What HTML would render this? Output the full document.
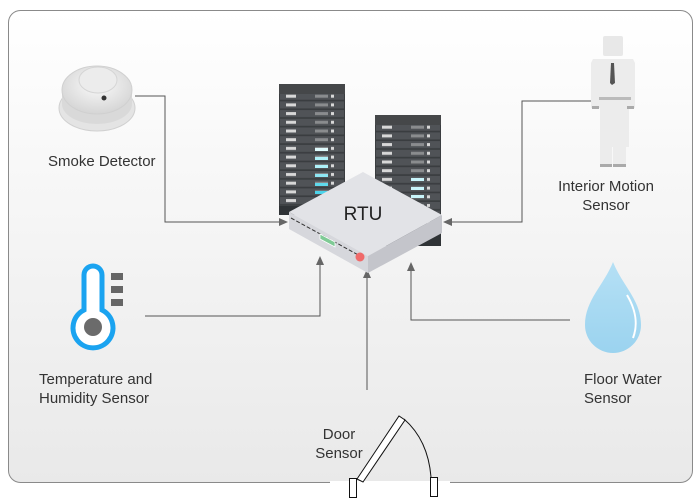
<!DOCTYPE html>
<html><head><meta charset="utf-8"><style>
html,body{margin:0;padding:0;background:#fff;}
svg{display:block;font-family:"Liberation Sans",sans-serif;}
</style></head><body>
<svg width="700" height="500" viewBox="0 0 700 500" xmlns="http://www.w3.org/2000/svg">
<defs>
<linearGradient id="bg" x1="0" y1="0" x2="0" y2="1"><stop offset="0" stop-color="#ffffff"/><stop offset="1" stop-color="#e9e9e9"/></linearGradient>
<linearGradient id="drop" x1="0" y1="0" x2="0" y2="1"><stop offset="0" stop-color="#b5e0f5"/><stop offset="1" stop-color="#9bd3ef"/></linearGradient>
<radialGradient id="smk" cx="0.5" cy="0.4" r="0.6"><stop offset="0" stop-color="#fafafa"/><stop offset="1" stop-color="#d5d5d5"/></radialGradient>
<pattern id="rows" x="0" y="0" width="66" height="8.7" patternUnits="userSpaceOnUse">
<rect width="66" height="8.7" fill="#3a3d40"/>
<rect x="1" y="0" width="64" height="7" fill="#505357"/>
<rect x="7" y="2" width="10" height="3" fill="#d8d8d8"/>
<rect x="36" y="2" width="13" height="3" fill="#8a8c8e"/>
<rect x="52" y="2" width="3" height="3" fill="#d8d8d8"/>
</pattern>
<marker id="ar" markerWidth="10" markerHeight="10" refX="8" refY="4" orient="auto" markerUnits="userSpaceOnUse"><path d="M0,0 L9,4 L0,8 z" fill="#666"/></marker>
</defs>
<rect x="8.5" y="10.5" width="684" height="472" rx="12" fill="url(#bg)" stroke="#8a8a8a"/>

<g stroke="#555" stroke-width="1" fill="none">
<path d="M135,96 H165 V222 H287" marker-end="url(#ar)"/>
<path d="M596,101 H522 V222 H444" marker-end="url(#ar)"/>
<path d="M145,316 H320 V257" marker-end="url(#ar)"/>
<path d="M570,320 H411 V263" marker-end="url(#ar)"/>
<path d="M367,390 V270" marker-end="url(#ar)"/>
</g>

<g transform="translate(279,84)">
<rect width="66" height="131" fill="#2f3336"/>
<rect width="66" height="10" fill="#454749"/>
<rect y="10" width="66" height="112" fill="url(#rows)"/>
<g fill="#aef0f8"><rect x="36" y="64" width="13" height="3" fill="#e0fbfd"/><rect x="36" y="73" width="13" height="3"/><rect x="36" y="81" width="13" height="3"/><rect x="36" y="90" width="13" height="3" fill="#8ee6f3"/><rect x="36" y="99" width="13" height="3" fill="#5fd9ec"/><rect x="36" y="107" width="13" height="3" fill="#4cd3ea"/></g>
</g>
<g transform="translate(375,115)">
<rect width="66" height="131" fill="#2f3336"/>
<rect width="66" height="10" fill="#454749"/>
<rect y="10" width="66" height="105" fill="url(#rows)"/>
<g fill="#c8f4fa"><rect x="36" y="63" width="13" height="3"/><rect x="36" y="72" width="13" height="3"/><rect x="36" y="80" width="13" height="3"/></g>
</g>

<path d="M289,212 L363,172 L442,215 L368,256 Z" fill="#e2e3e7"/>
<path d="M289,212 L368,256 L368,273 L289,229 Z" fill="#d6d7dc"/>
<path d="M368,256 L442,215 L442,233 L368,273 Z" fill="#c4c5cb"/>
<path d="M291,218 L362,257" stroke="#333" stroke-dasharray="4,2" stroke-width="1"/>
<path d="M320,234 L335,242 L335,247 L320,239 Z" fill="#7fca95" stroke="#fff" stroke-width="0.8"/>
<circle cx="360" cy="257" r="4.5" fill="#f06a6a"/>
<text x="363" y="220" font-size="19" text-anchor="middle" fill="#222">RTU</text>

<ellipse cx="97" cy="108" rx="38" ry="23" fill="#e4e4e4" stroke="#d0d0d0"/>
<path d="M62,92 L62,104 A35,20 0 0 0 132,104 L132,92 Z" fill="#d9d9d9"/>
<ellipse cx="97" cy="90" rx="35" ry="24" fill="url(#smk)" stroke="#d0d0d0"/>
<ellipse cx="98" cy="80" rx="19" ry="13" fill="#ececec" stroke="#d5d5d5"/>
<circle cx="104" cy="98" r="2.5" fill="#333"/>

<rect x="603" y="36" width="20" height="20" rx="2" fill="#e8e8e8"/>
<path d="M593,59 H633 L635,63 V108 H629 V147 H601 V108 H591 V63 Z" fill="#ececec"/>
<rect x="599" y="97" width="32" height="3" fill="#bbb"/>
<rect x="592" y="106" width="7" height="3" fill="#aaa"/><rect x="627" y="106" width="7" height="3" fill="#aaa"/>
<rect x="600" y="163" width="12" height="4" fill="#aaa"/><rect x="613" y="163" width="13" height="4" fill="#aaa"/>
<rect x="600" y="108" width="12" height="56" fill="#ececec"/><rect x="613" y="108" width="13" height="56" fill="#ececec"/>
<path d="M611,63 L614,63 L615,83 L612,85 L610,83 Z" fill="#555"/>

<path d="M84,310 V275 a9,9 0 0 1 18,0 V310 a20,20 0 1 1 -18,0 Z" fill="#fff" stroke="#1aa3f0" stroke-width="5"/>
<circle cx="93" cy="327" r="9" fill="#6b6b6b"/>
<rect x="111" y="273" width="12" height="7" fill="#666"/><rect x="111" y="286" width="12" height="7" fill="#666"/><rect x="111" y="299" width="12" height="7" fill="#666"/>

<path d="M613,262 C622,285 641,300 641,325 A28,28 0 0 1 585,325 C585,300 604,285 613,262 Z" fill="url(#drop)"/>
<path d="M627,295 C636,310 638,325 633,338" stroke="#fff" stroke-width="2" fill="none"/>

<rect x="330" y="481" width="120" height="19" fill="#fff"/>
<rect x="349.5" y="478.5" width="7" height="19" fill="#fff" stroke="#111"/>
<rect x="430.5" y="477.5" width="7" height="19" fill="#fff" stroke="#111"/>
<path d="M357,479 L399,416 L405,420 L363,482 Z" fill="#fff" stroke="#111"/>
<path d="M404,419 Q428,440 431,477" fill="none" stroke="#111"/>

<g font-size="15" fill="#333">
<text x="48" y="166">Smoke Detector</text>
<text x="606" y="191" text-anchor="middle">Interior Motion</text>
<text x="606" y="210" text-anchor="middle">Sensor</text>
<text x="39" y="384">Temperature and</text>
<text x="39" y="403">Humidity Sensor</text>
<text x="584" y="384">Floor Water</text>
<text x="584" y="403">Sensor</text>
<text x="339" y="439" text-anchor="middle">Door</text>
<text x="339" y="458" text-anchor="middle">Sensor</text>
</g>
</svg>
</body></html>
